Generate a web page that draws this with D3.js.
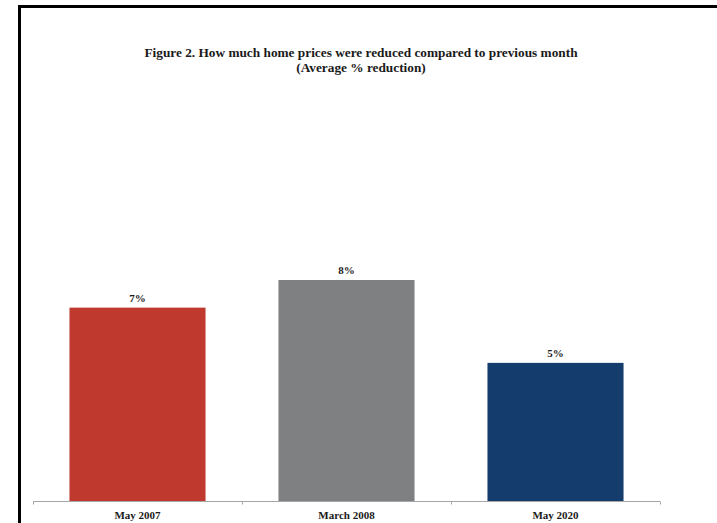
<!DOCTYPE html>
<html>
<head>
<meta charset="utf-8">
<script src="https://cdn.jsdelivr.net/npm/d3@7"></script>
<style>
  html, body { margin: 0; padding: 0; background: #fff; }
  svg { display: block; }
  text { font-family: "Liberation Serif", "Times New Roman", serif; font-weight: bold; fill: #1a1a1a; }
</style>
</head>
<body>
<svg id="chart" width="717" height="523"></svg>
<script>
const categories = ["May 2007", "March 2008", "May 2020"];
const values = [7, 8, 5];
const valueLabels = ["7%", "8%", "5%"];
const colors = ["#c0392e", "#7f8082", "#143d6d"];
const titleLines = ["Figure 2. How much home prices were reduced compared to previous month", "(Average % reduction)"];

const svg = d3.select("#chart");

// frame
svg.append("rect").attr("x", 0).attr("y", 0).attr("width", 717).attr("height", 523).attr("fill", "#fff");
svg.append("path").attr("d", "M19.5,523 V6.5 H717").attr("fill", "none").attr("stroke", "#000").attr("stroke-width", 3);

// title
svg.append("g").selectAll("text").data(titleLines).join("text")
  .attr("x", 361).attr("y", (d, i) => 57 + i * 15)
  .attr("text-anchor", "middle").attr("font-size", 13.3)
  .text(d => d);

const x = d3.scaleBand().domain(categories).range([33, 660]).paddingInner(0.349).paddingOuter(0.1745);
const y = d3.scaleLinear().domain([0, 8]).range([501, 280]);

svg.append("g").selectAll("rect").data(categories).join("rect")
  .attr("x", d => x(d)).attr("width", x.bandwidth())
  .attr("y", (d, i) => y(values[i])).attr("height", (d, i) => y(0) - y(values[i]))
  .attr("fill", (d, i) => colors[i]);

svg.append("g").selectAll("text").data(categories).join("text")
  .attr("x", d => x(d) + x.bandwidth() / 2)
  .attr("y", (d, i) => y(values[i]) - 6)
  .attr("text-anchor", "middle").attr("font-size", 11)
  .text((d, i) => valueLabels[i]);

// axis
const axisG = svg.append("g").attr("transform", "translate(0,501.5)");
axisG.append("line").attr("x1", 33).attr("x2", 660).attr("stroke", "#a6a6a6").attr("stroke-width", 1);
const tickPos = [33].concat(categories.map(d => x(d) + x.bandwidth() / 2 + x.step() / 2));
axisG.selectAll("line.tick").data(tickPos).join("line").attr("class", "tick")
  .attr("x1", d => Math.round(d) + 0.5).attr("x2", d => Math.round(d) + 0.5).attr("y1", 0).attr("y2", 3)
  .attr("stroke", "#a6a6a6");
axisG.selectAll("text").data(categories).join("text")
  .attr("x", d => x(d) + x.bandwidth() / 2).attr("y", 17.5)
  .attr("text-anchor", "middle").attr("font-size", 11)
  .text(d => d);
</script>
</body>
</html>
